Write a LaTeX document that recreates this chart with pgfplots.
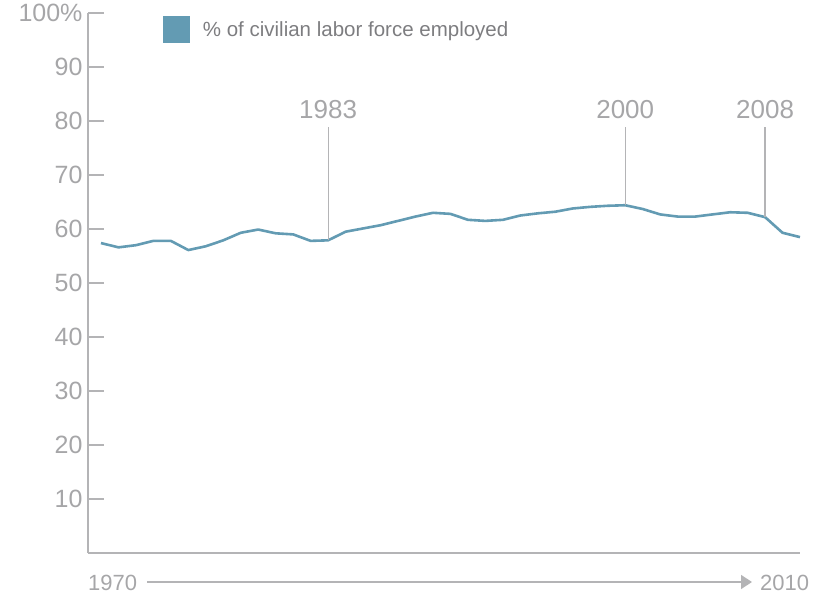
\documentclass[border=0pt]{standalone}
\usepackage{pgfplots}
\pgfplotsset{compat=1.18}
\usepackage{fontspec}
\setmainfont{Liberation Sans}
\usetikzlibrary{arrows.meta}
\definecolor{linec}{RGB}{99,155,179}
\definecolor{labc}{RGB}{166,166,168}
\definecolor{legc}{RGB}{125,125,128}
\definecolor{axc}{RGB}{180,180,182}
\pgfplotstableread{
year val
1970 57.4
1971 56.6
1972 57.0
1973 57.8
1974 57.8
1975 56.1
1976 56.8
1977 57.9
1978 59.3
1979 59.9
1980 59.2
1981 59.0
1982 57.8
1983 57.9
1984 59.5
1985 60.1
1986 60.7
1987 61.5
1988 62.3
1989 63.0
1990 62.8
1991 61.7
1992 61.5
1993 61.7
1994 62.5
1995 62.9
1996 63.2
1997 63.8
1998 64.1
1999 64.3
2000 64.4
2001 63.7
2002 62.7
2003 62.3
2004 62.3
2005 62.7
2006 63.1
2007 63.0
2008 62.2
2009 59.3
2010 58.5
}\datatable
\begin{document}
\begin{tikzpicture}
\useasboundingbox (-88bp,-41bp) rectangle (736bp,553bp);
\begin{axis}[
  at={(0,0)}, anchor=south west,
  scale only axis, width=712bp, height=540bp,
  xmin=1969.26, xmax=2010, ymin=0, ymax=100,
  axis x line*=bottom, axis y line*=left,
  axis line style={draw=axc, line width=1.3bp, -},
  xtick=\empty,
  ytick={10,20,...,100},
  ytick pos=left,
  yticklabels={10,20,30,40,50,60,70,80,90,100\%},
  /pgf/number format/assume math mode=true,
  tick align=inside,
  ytick align=inside,
  major tick length=16bp,
  ytick style={draw=axc, line width=1.2bp},
  yticklabel style={font=\fontsize{25bp}{30bp}\selectfont, text=labc, xshift=-2bp},
  legend style={at={(rel axis cs:0.105,0.944)}, anchor=south west, draw=none, fill=none,
    font=\fontsize{20.5bp}{24bp}\selectfont, text=legc, inner sep=0pt,
    /tikz/every even column/.append style={column sep=0pt}},
  legend image code/.code={\fill[fill=linec,draw=none] (0bp,-13.5bp) rectangle (27bp,13.5bp);\path[draw=none] (27bp,0bp) -- (38bp,0bp);},
  clip=false,
]
\addplot[color=linec, line width=2.6bp, line join=round] table[x=year,y=val] {\datatable};
\addlegendentry{\% of civilian labor force employed}
\draw[axc, line width=1.2bp] (axis cs:1983,57.9) -- (axis cs:1983,78.9);
\draw[axc, line width=1.2bp] (axis cs:2000,64.4) -- (axis cs:2000,78.9);
\draw[axc, line width=1.2bp] (axis cs:2008,62.2) -- (axis cs:2008,78.9);
\node[anchor=base, text=labc, font=\fontsize{26bp}{30bp}\selectfont, inner sep=0pt] at (axis cs:1983,80.4) {1983};
\node[anchor=base, text=labc, font=\fontsize{26bp}{30bp}\selectfont, inner sep=0pt] at (axis cs:2000,80.4) {2000};
\node[anchor=base, text=labc, font=\fontsize{26bp}{30bp}\selectfont, inner sep=0pt] at (axis cs:2008,80.4) {2008};
\end{axis}
\node[anchor=base west, text=labc, font=\fontsize{22bp}{26bp}\selectfont, inner sep=0pt] at (0bp,-37bp) {1970};
\draw[axc, line width=1.3bp, -{Triangle[width=14bp,length=11bp]}] (59bp,-29bp) -- (664bp,-29bp);
\node[anchor=base west, text=labc, font=\fontsize{22bp}{26bp}\selectfont, inner sep=0pt] at (672bp,-37bp) {2010};
\end{tikzpicture}
\end{document}
